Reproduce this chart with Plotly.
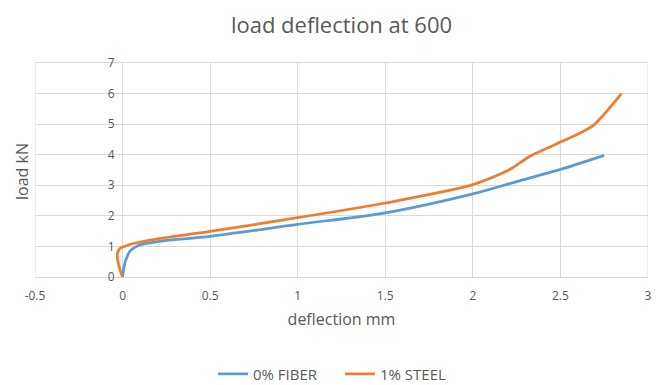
import plotly.graph_objects as go

fiber_x = [0, 0.005, 0.013, 0.025, 0.04, 0.07, 0.1, 0.2, 0.5, 1.0, 1.5, 2.0, 2.25, 2.5, 2.75]
fiber_y = [0, 0.2, 0.45, 0.65, 0.83, 0.97, 1.05, 1.16, 1.33, 1.72, 2.1, 2.72, 3.12, 3.52, 3.98]

steel_x = [0, -0.015, -0.028, -0.028, -0.015, 0.01, 0.05, 0.2, 0.5, 1.0, 1.5, 2.0, 2.15, 2.23, 2.325, 2.42, 2.506, 2.61, 2.686, 2.743, 2.8, 2.848]
steel_y = [0, 0.25, 0.55, 0.8, 0.93, 1.0, 1.08, 1.25, 1.49, 1.94, 2.42, 3.02, 3.35, 3.58, 3.95, 4.2, 4.43, 4.7, 4.95, 5.28, 5.66, 6.0]

x_ticks = [-0.5, 0, 0.5, 1, 1.5, 2, 2.5, 3]
x_tick_text = ["-0.5", "0", "0.5", "1", "1.5", "2", "2.5", "3"]
y_ticks = [0, 1, 2, 3, 4, 5, 6, 7]

font_family = "Open Sans, sans-serif"
txt = "#595959"
grid = "#d9d9d9"

W, H = 664, 385
L, R, T, B = 35, 16, 63, 108
ph = H - T - B
pw = W - L - R

fig = go.Figure()
fig.add_trace(go.Scatter(x=fiber_x, y=fiber_y, mode="lines", name="0% FIBER",
                         line=dict(color="#5b9bd5", width=2.75, shape="spline", smoothing=0.8)))
fig.add_trace(go.Scatter(x=steel_x, y=steel_y, mode="lines", name="1% STEEL",
                         line=dict(color="#ed7d31", width=2.75, shape="spline", smoothing=0.9)))

fig.update_layout(
    width=W, height=H,
    margin=dict(l=L, r=R, t=T, b=B, autoexpand=False),
    paper_bgcolor="white", plot_bgcolor="white",
    font=dict(family=font_family, color=txt, size=11),
    title=dict(text="load deflection at 600", x=(L + pw / 2) / W, xanchor="center",
               y=1 - 25 / H, yanchor="middle",
               font=dict(size=22, color=txt, family=font_family)),
    showlegend=True,
    legend=dict(orientation="h", x=340 / W, xanchor="center", xref="container",
                y=1 - 374 / H, yanchor="middle", yref="container",
                font=dict(size=15, color=txt), traceorder="normal",
                entrywidth=82, entrywidthmode="pixels"),
    xaxis=dict(range=[-0.5, 3], tickvals=x_ticks, ticktext=x_tick_text, showgrid=True, gridcolor=grid,
               gridwidth=1, zeroline=False, showline=True, linecolor=grid, mirror=True, ticks="",
               tickfont=dict(size=12, color=txt), automargin=False, ticklabelstandoff=8,
               title=dict(text="deflection mm", font=dict(size=16, color=txt), standoff=10)),
    yaxis=dict(range=[0, 7], tickvals=y_ticks, showgrid=True, gridcolor=grid, gridwidth=1,
               zeroline=False, showline=False, ticks="", anchor="free", position=0.5 / 3.5,
               tickfont=dict(size=12, color=txt), automargin=False, ticklabelstandoff=8),
)

fig.add_annotation(text="load kN", xref="paper", yref="paper", x=-(L - 22) / pw, y=(277 - 172) / ph,
                   textangle=-90, showarrow=False, font=dict(size=16, color=txt),
                   xanchor="center", yanchor="middle")
fig.add_shape(type="line", xref="x", yref="paper", x0=-0.5, x1=-0.5, y0=0, y1=1,
              line=dict(color=grid, width=1), layer="below")
fig.add_shape(type="line", xref="x", yref="paper", x0=3, x1=3, y0=0, y1=1,
              line=dict(color=grid, width=1), layer="below")

fig.write_html("out.html")
